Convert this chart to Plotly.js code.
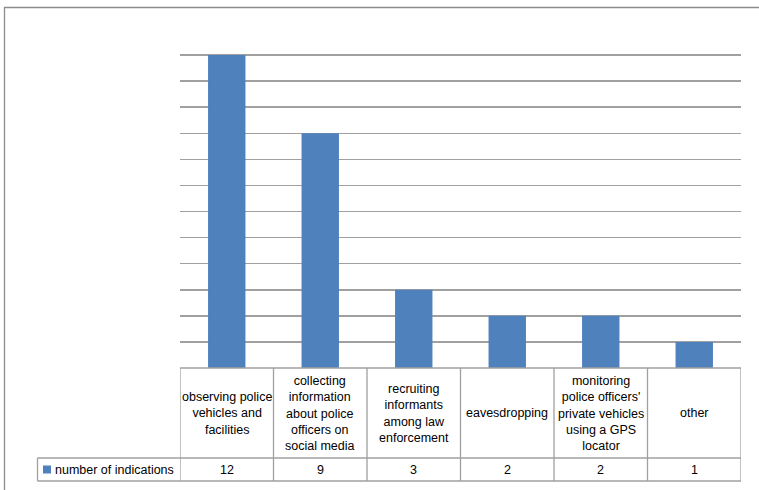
<!DOCTYPE html>
<html>
<head>
<meta charset="utf-8">
<script src="https://cdn.plot.ly/plotly-3.0.1.min.js"></script>
<style>
  html, body { margin: 0; padding: 0; background: #fff; }
  #chart { width: 759px; height: 490px; }
</style>
</head>
<body>
<div id="chart"></div>
<script>
// Categories, shown in the data table under the bars (line breaks as wrapped in the cells)
const categories = [
  'observing police<br>vehicles and<br>facilities',
  'collecting<br>information<br>about police<br>officers on<br>social media',
  'recruiting<br>informants<br>among law<br>enforcement',
  'eavesdropping',
  'monitoring<br>police officers\'<br>private vehicles<br>using a GPS<br>locator',
  'other'
];
const seriesName = 'number of indications';
const values = [12, 9, 3, 2, 2, 1];

const barColor = '#4f81bd';
const lineColor = '#a0a0a0';
const fontFamily = 'Liberation Sans, Arial, sans-serif';

// plot area geometry in pixels (used to convert to paper units)
const W = 759, H = 490;
const margin = { l: 180, r: 18, t: 29, b: 122 };
const plotW = W - margin.l - margin.r;
const plotH = H - margin.t - margin.b;
const pxX = px => (px - margin.l) / plotW;
const pxY = py => (H - margin.b - py) / plotH;

const xIdx = categories.map((_, i) => i);

// data table rows (paper y)
const tableTop = 0;
const rowSplit = pxY(458);
const tableBottom = pxY(481);
const legendLeft = pxX(37.5);

const shapes = [];
const line = { color: lineColor, width: 1.3 };

// outer chart frame
shapes.push({ type: 'rect', xref: 'paper', yref: 'paper',
  x0: pxX(4.5), x1: pxX(780), y0: pxY(510), y1: pxY(7.5),
  line: { color: '#8c8c8c', width: 1.3 }, fillcolor: 'rgba(0,0,0,0)', layer: 'below' });

// table horizontal lines
shapes.push({ type: 'line', xref: 'x', yref: 'paper', x0: -0.5, x1: categories.length - 0.5, y0: tableTop, y1: tableTop, line });
shapes.push({ type: 'line', xref: 'paper', yref: 'paper', x0: legendLeft, x1: 1, y0: rowSplit, y1: rowSplit, line });
shapes.push({ type: 'line', xref: 'paper', yref: 'paper', x0: legendLeft, x1: 1, y0: tableBottom, y1: tableBottom, line });
// table vertical lines at category boundaries
for (let i = 0; i <= categories.length; i++) {
  shapes.push({ type: 'line', xref: 'x', yref: 'paper', x0: i - 0.5, x1: i - 0.5, y0: tableTop, y1: tableBottom, line });
}
// legend cell left edge
shapes.push({ type: 'line', xref: 'paper', yref: 'paper', x0: legendLeft, x1: legendLeft, y0: rowSplit, y1: tableBottom, line });
// legend key square
shapes.push({ type: 'rect', xref: 'paper', yref: 'paper',
  x0: pxX(43), x1: pxX(51), y0: pxY(473.5), y1: pxY(465.5),
  line: { width: 0 }, fillcolor: barColor });

const annotations = [];
const font = { family: fontFamily, size: 12.5, color: '#000' };
categories.forEach((c, i) => {
  annotations.push({ xref: 'x', yref: 'paper', x: i, y: (tableTop + rowSplit) / 2,
    text: c, showarrow: false, font, align: 'center', xanchor: 'center', yanchor: 'middle' });
  annotations.push({ xref: 'x', yref: 'paper', x: i, y: (rowSplit + tableBottom) / 2,
    text: String(values[i]), showarrow: false, font, xanchor: 'center', yanchor: 'middle' });
});
annotations.push({ xref: 'paper', yref: 'paper', x: pxX(52.5), y: (rowSplit + tableBottom) / 2,
  text: seriesName, showarrow: false, font, xanchor: 'left', yanchor: 'middle' });

const trace = {
  type: 'bar',
  x: xIdx,
  y: values,
  name: seriesName,
  width: 0.4,
  marker: { color: barColor, line: { width: 0 } },
  hoverinfo: 'skip'
};

const layout = {
  width: W, height: H,
  margin,
  paper_bgcolor: '#fff', plot_bgcolor: '#fff',
  showlegend: false,
  xaxis: { range: [-0.5, categories.length - 0.5], showticklabels: false, showgrid: false,
    zeroline: false, showline: false, ticks: '', fixedrange: true },
  yaxis: { range: [0, 13], dtick: 1, showticklabels: false, showgrid: true,
    gridcolor: lineColor, gridwidth: 1.5, zeroline: false, showline: false, ticks: '', fixedrange: true },
  shapes, annotations,
  font: { family: fontFamily }
};

Plotly.newPlot('chart', [trace], layout, { displayModeBar: false, staticPlot: true });
</script>
</body>
</html>
